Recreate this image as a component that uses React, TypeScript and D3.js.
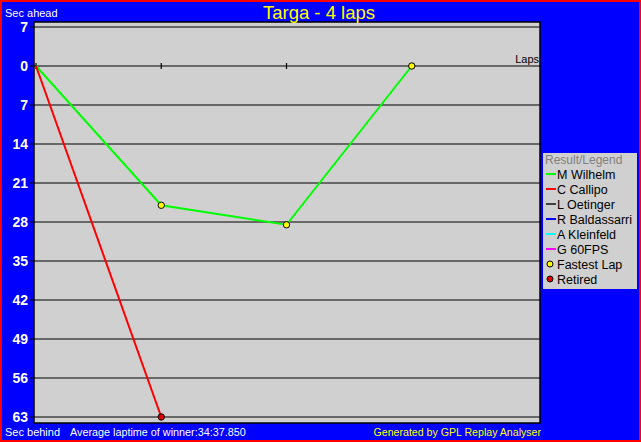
import React from "react";
import * as d3 from "d3";

const title = "Targa - 4 laps";
const lapTicks = [0, 1, 2, 3];
const yTicks = [-7, 0, 7, 14, 21, 28, 35, 42, 49, 56, 63];
const drivers = ["M Wilhelm", "C Callipo", "L Oetinger", "R Baldassarri", "A Kleinfeld", "G 60FPS"];
const driverColors = ["#00ff00", "#ff0000", "#404040", "#0000ff", "#00ffff", "#ff00ff"];
const wilhelmLaps = [0, 1, 2, 3];
const wilhelmGaps = [0, 25, 28.5, 0];
const callipoLaps = [0, 1];
const callipoGaps = [0, 63];
const fastestLapLaps = [1, 2, 3];
const fastestLapGaps = [25, 28.5, 0];
const retiredLaps = [1];
const retiredGaps = [63];

const W = 641, H = 442;
const plot = { x0: 34, x1: 540, y0: 22, y1: 423 };
const FONT = "'Liberation Sans', Arial, sans-serif";

export default function App() {
  const x = d3.scaleLinear().domain([0, 4]).range([36, 537]);
  const y = d3.scaleLinear().domain([-7, 63]).range([27, 417]);
  const line = d3.line<[number, number]>().x(d => x(d[0])).y(d => y(d[1]));
  const series = [
    { color: driverColors[0], pts: wilhelmLaps.map((l, i) => [l, wilhelmGaps[i]] as [number, number]) },
    { color: driverColors[1], pts: callipoLaps.map((l, i) => [l, callipoGaps[i]] as [number, number]) },
  ];
  const legendItems = [
    ...drivers.map((d, i) => ({ label: d, kind: "line", color: driverColors[i] })),
    { label: "Fastest Lap", kind: "dot", color: "#ffff00" },
    { label: "Retired", kind: "dot", color: "#e00000" },
  ];
  return (
    <svg width={W} height={H} style={{ position: "absolute", left: 0, top: 0, fontFamily: FONT }}>
      <rect x={0} y={0} width={W} height={H} fill="#ff0000" />
      <rect x={2} y={2} width={W - 4} height={H - 4} fill="#0000ff" />
      <rect x={plot.x0} y={plot.y0} width={plot.x1 - plot.x0} height={plot.y1 - plot.y0} fill="#d0d0d0" stroke="#000" strokeWidth={1.5} />
      <text x={319} y={19} textAnchor="middle" fill="#ffff00" fontSize={18.5}>{title}</text>
      <text x={5} y={17} fill="#fff" fontSize={11}>Sec ahead</text>
      {yTicks.map(t => (
        <g key={t}>
          <line x1={30} x2={plot.x1} y1={y(t)} y2={y(t)} stroke="#000" strokeWidth={1.2} />
          <text x={28} y={y(t) + 5} textAnchor="end" fill="#fff" fontSize={14} fontWeight="bold">{Math.abs(t)}</text>
        </g>
      ))}
      {lapTicks.map(l => (
        <line key={l} x1={x(l)} x2={x(l)} y1={y(0) - 3} y2={y(0) + 3} stroke="#000" strokeWidth={1.2} />
      ))}
      <text x={539} y={63} textAnchor="end" fill="#000" fontSize={11}>Laps</text>
      {series.map((s, i) => (
        <path key={i} d={line(s.pts) || ""} fill="none" stroke={s.color} strokeWidth={2} />
      ))}
      {fastestLapLaps.map((l, i) => (
        <circle key={"f" + i} cx={x(l)} cy={y(fastestLapGaps[i])} r={3.2} fill="#ffff00" stroke="#000" strokeWidth={1} />
      ))}
      {retiredLaps.map((l, i) => (
        <circle key={"r" + i} cx={x(l)} cy={y(retiredGaps[i])} r={3.2} fill="#e00000" stroke="#000" strokeWidth={1} />
      ))}
      <rect x={543} y={153} width={94} height={136} fill="#d0d0d0" />
      <text x={545} y={164} fill="#808080" fontSize={12}>Result/Legend</text>
      {legendItems.map((it, i) => {
        const cy = 174 + i * 15;
        return (
          <g key={it.label}>
            {it.kind === "line" ? (
              <line x1={546} x2={556} y1={cy} y2={cy} stroke={it.color} strokeWidth={2} />
            ) : (
              <circle cx={550} cy={cy} r={3} fill={it.color} stroke="#000" strokeWidth={1} />
            )}
            <text x={557} y={cy + 4.5} fill="#000" fontSize={12.5}>{it.label}</text>
          </g>
        );
      })}
      <text x={5} y={436} fill="#fff" fontSize={11}>Sec behind</text>
      <text x={70} y={436} fill="#fff" fontSize={10.8}>Average laptime of winner:34:37.850</text>
      <text x={541} y={436} textAnchor="end" fill="#ffff00" fontSize={10.6}>Generated by GPL Replay Analyser</text>
    </svg>
  );
}
